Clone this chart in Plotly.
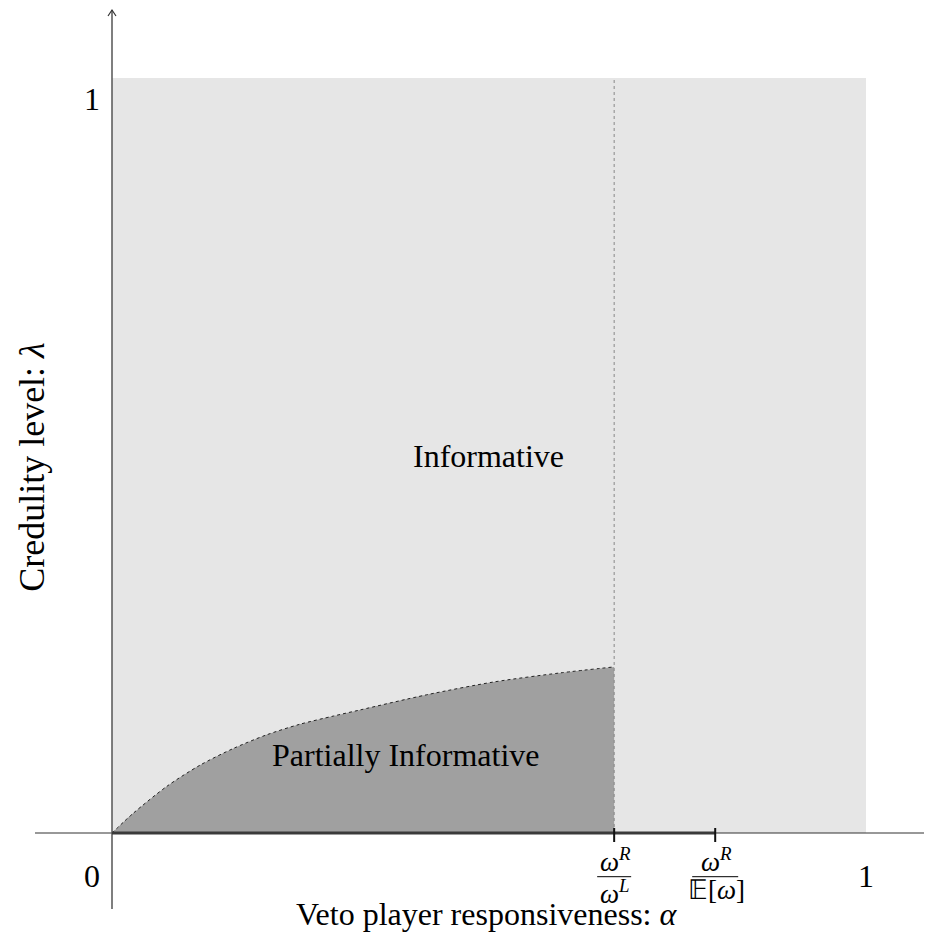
import plotly.graph_objects as go

# ---- data ----
alpha_curve = [0, 0.028, 0.073, 0.117, 0.161, 0.205, 0.249, 0.294, 0.329, 0.417, 0.506, 0.594, 0.666]
lambda_curve = [0, 0.026, 0.062, 0.090, 0.112, 0.130, 0.144, 0.155, 0.163, 0.183, 0.200, 0.212, 0.220]
alpha_wL = 0.666      # omega^R / omega^L
alpha_E = 0.80        # omega^R / E[omega]
region_labels = ["Informative", "Partially Informative"]
x_title = "Veto player responsiveness: <i>α</i>"
y_title = "Credulity level: <i>λ</i>"

FONT = "Liberation Serif"
OFF = 8                      # default body margin of the page
W, H = 932 - 2 * OFF, 942 - 2 * OFF
X0PX, X1PX = 112 - OFF, 866 - OFF   # figure pixel of alpha=0 and alpha=1
Y0PX, Y1PX = 833 - OFF, 78 - OFF    # figure pixel of lambda=0 and lambda=1
sx = 1.0 / (X1PX - X0PX)
sy = 1.0 / (Y0PX - Y1PX)

fig = go.Figure()

# light gray full region
fig.add_shape(type="rect", x0=0, x1=1, y0=0, y1=1, fillcolor="#e6e6e6",
              line_width=0, layer="below")

# partially informative region
fig.add_trace(go.Scatter(x=alpha_curve, y=lambda_curve, mode="lines",
                         fill="tozeroy", fillcolor="#a0a0a0",
                         line=dict(color="#222", width=1, dash="dot", shape="spline", smoothing=0.8),
                         hoverinfo="skip"))

# dotted vertical threshold
fig.add_trace(go.Scatter(x=[alpha_wL, alpha_wL], y=[0, 1], mode="lines",
                         line=dict(color="#888", width=1, dash="dot"), hoverinfo="skip"))

# x axis line
fig.add_trace(go.Scatter(x=[(35 - OFF - X0PX) * sx, (W + OFF - X0PX) * sx], y=[0, 0], mode="lines",
                         line=dict(color="#333", width=1.2), hoverinfo="skip"))
# y axis line with arrow (tip near the top of the figure)
ytop = (Y0PX - 2) * sy
fig.add_trace(go.Scatter(x=[0, 0], y=[(Y0PX - 909 + OFF) * sy, ytop], mode="lines",
                         line=dict(color="#555", width=1.5), hoverinfo="skip"))
fig.add_trace(go.Scatter(x=[-4 * sx, 0, 4 * sx], y=[ytop - 6 * sy, ytop, ytop - 6 * sy],
                         mode="lines", line=dict(color="#333", width=1.2), hoverinfo="skip"))

# thick segment along x axis
fig.add_trace(go.Scatter(x=[0, alpha_E], y=[0, 0], mode="lines",
                         line=dict(color="#3a3a3a", width=3), hoverinfo="skip"))
# tick marks
for xv in [alpha_wL, alpha_E]:
    fig.add_trace(go.Scatter(x=[xv, xv], y=[5 * sy, -9 * sy], mode="lines",
                             line=dict(color="#111", width=2), hoverinfo="skip"))

ann = []
def text(x, y, t, size=32, xs=0, ys=0, **kw):
    ann.append(dict(x=x, y=y, text=t, showarrow=False, xshift=xs, yshift=ys,
                    font=dict(family=FONT, size=size, color="black"), **kw))

text(0, 0, "0", xs=-20, ys=-43)
text(1, 0, "1", xs=0, ys=-43)
text(0, 1, "1", xs=-20, ys=-21)
text(0.499, 0.50, region_labels[0])
text(0.389, 0.103, region_labels[1])
text(0.497, 0, x_title, ys=-81)
text(0, 0.485, y_title, size=36, xs=-80, textangle=-90)

# fractions (numerator above the bar, denominator below it)
fs = 27
yl = -43.7 * sy
for xv, num, den in [(alpha_wL, "<i>ω</i><sup><i>R</i></sup>", "<i>ω</i><sup><i>L</i></sup>"),
                     (alpha_E, "<i>ω</i><sup><i>R</i></sup>", "𝔼[<i>ω</i>]")]:
    text(xv, yl, num, size=fs, xs=1, ys=-2, yanchor="bottom", valign="bottom")
    text(xv, yl, den, size=fs, xs=1, ys=4, yanchor="top", valign="top")
fig.add_shape(type="line", x0=alpha_wL - 17 * sx, x1=alpha_wL + 17 * sx, y0=yl, y1=yl,
              line=dict(color="black", width=1))
fig.add_shape(type="line", x0=alpha_E - 23 * sx, x1=alpha_E + 23 * sx, y0=yl, y1=yl,
              line=dict(color="black", width=1))

fig.update_layout(
    width=W, height=H, margin=dict(l=0, r=0, t=0, b=0),
    paper_bgcolor="white", plot_bgcolor="white", showlegend=False,
    annotations=ann,
    xaxis=dict(range=[-X0PX * sx, (W - X0PX) * sx], visible=False, fixedrange=True),
    yaxis=dict(range=[(Y0PX - H) * sy, Y0PX * sy], visible=False, fixedrange=True),
)
fig.write_html("out.html")
